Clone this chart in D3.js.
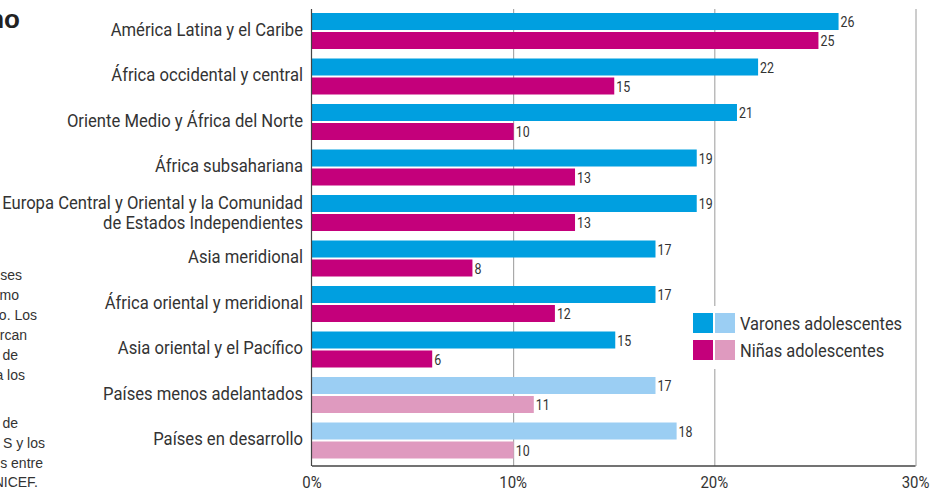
<!DOCTYPE html>
<html>
<head>
<meta charset="utf-8">
<script src="https://cdn.jsdelivr.net/npm/d3@7"></script>
<style>
    html, body { margin: 0; padding: 0; background: #fff; }
    #chart { width: 933px; height: 490px; overflow: hidden; }
    svg { display: block; }
    .cond { font-family: Roboto, "Liberation Sans", sans-serif; }
</style>
</head>
<body>
<div id="chart"></div>
<script>
// Regions (newline = forced break in the label)
var categories = [
    'América Latina y el Caribe',
    'África occidental y central',
    'Oriente Medio y África del Norte',
    'África subsahariana',
    'Europa Central y Oriental y la Comunidad\nde Estados Independientes',
    'Asia meridional',
    'África oriental y meridional',
    'Asia oriental y el Pacífico',
    'Países menos adelantados',
    'Países en desarrollo'
];

// aggregate groups drawn with the pale colours
var aggregates = ['Países menos adelantados', 'Países en desarrollo'];

// % of adolescents (labels are rounded)
var boysValues  = [26.2, 22.2, 21.15, 19.15, 19.15, 17.1, 17.1, 15.1, 17.1, 18.15];
var girlsValues = [25.2, 15.05, 10.05, 13.1, 13.1, 8.0, 12.1, 6.0, 11.05, 10.05];

var xTicks = [0, 10, 20, 30];
var legendLabels = ['Varones adolescentes', 'Niñas adolescentes'];

// clipped text visible at the left edge of the picture
var titleFragment = 'no';
var noteFragments = [
    { text: 'ses', x: 22, y: 280 },
    { text: 'mo', x: 19, y: 300 },
    { text: 'o. Los', x: 37, y: 320 },
    { text: 'rcan', x: 27, y: 340 },
    { text: 'de', x: 18, y: 360 },
    { text: 'a los', x: 25, y: 380 },
    { text: 'de', x: 18, y: 428 },
    { text: 'S y los', x: 45, y: 448 },
    { text: 's entre', x: 43, y: 468 },
    { text: 'NICEF.', x: 38, y: 487 }
];

var COLORS = {
    boys: '#009fe0',
    girls: '#c4007b',
    boysLight: '#9bcef3',
    girlsLight: '#df9abf'
};

// fake a condensed face: horizontal squeeze of Roboto
function condensed(sel, x, y, sx) {
    sel.attr('class', 'cond')
        .attr('transform', 'translate(' + x + ',' + y + ') scale(' + sx + ',1)');
}

function renderChart() {
    var width = 933, height = 490;
    var plotTop = 9, plotBottom = 466;

    var svg = d3.select('#chart').append('svg')
        .attr('width', width)
        .attr('height', height);

    var rows = categories.map(function(c, i) {
        return { name: c, boys: boysValues[i], girls: girlsValues[i],
                 aggregate: aggregates.indexOf(c) >= 0 };
    });

    var xScale = d3.scaleLinear()
        .domain([0, 30])
        .range([311.5, 915]);

    var yScale = d3.scaleBand()
        .domain(categories)
        .range([13, 458.5])
        .paddingInner(0.2088)
        .paddingOuter(0);

    var subScale = d3.scaleBand()
        .domain(['boys', 'girls'])
        .range([0, yScale.bandwidth()])
        .paddingInner(0.105);

    // grid lines
    svg.append('g')
        .attr('class', 'grid')
        .attr('transform', 'translate(0.5,' + plotBottom + ')')
        .call(d3.axisBottom(xScale)
            .tickValues(xTicks.slice(1))
            .tickSize(-(plotBottom - plotTop))
            .tickFormat(''))
        .call(function(g) {
            g.select('.domain').remove();
            g.selectAll('line')
                .attr('stroke', '#9a9a9a')
                .attr('stroke-width', 1);
        });

    // bars
    var groups = svg.selectAll('.row')
        .data(rows)
        .enter()
        .append('g')
        .attr('class', 'row')
        .attr('transform', function(d) { return 'translate(0,' + yScale(d.name) + ')'; });

    ['boys', 'girls'].forEach(function(key) {
        groups.append('rect')
            .attr('x', xScale(0))
            .attr('y', subScale(key))
            .attr('width', function(d) { return xScale(d[key]) - xScale(0); })
            .attr('height', subScale.bandwidth())
            .attr('fill', function(d) {
                return d.aggregate ? COLORS[key + 'Light'] : COLORS[key];
            });

        groups.append('text')
            .each(function(d) {
                condensed(d3.select(this), xScale(d[key]) + 2,
                    subScale(key) + subScale.bandwidth() / 2, 0.8);
            })
            .attr('dy', '0.36em')
            .attr('font-size', '15.5px')
            .attr('fill', '#333')
            .text(function(d) { return d3.format('.0f')(d[key]); });
    });

    // category labels
    groups.each(function(d) {
        var lines = d.name.split('\n');
        var mid = yScale.bandwidth() / 2;
        var txt = d3.select(this).append('text')
            .attr('text-anchor', 'end')
            .attr('font-size', '18.5px')
            .attr('fill', '#333');
        condensed(txt, 303, 0, 0.9);
        lines.forEach(function(line, i) {
            txt.append('tspan')
                .attr('x', 0)
                .attr('y', mid + 5 + (i - (lines.length - 1) / 2) * 20 + (lines.length > 1 ? 1 : 0))
                .text(line);
        });
    });

    // left axis line
    svg.append('line')
        .attr('x1', 311.5).attr('x2', 311.5)
        .attr('y1', plotTop).attr('y2', plotBottom)
        .attr('stroke', '#444')
        .attr('stroke-width', 1.2);

    // bottom axis
    svg.append('g')
        .attr('class', 'x-axis')
        .attr('transform', 'translate(0,' + (plotBottom - 0.5) + ')')
        .call(d3.axisBottom(xScale)
            .tickValues(xTicks)
            .tickSizeInner(0)
            .tickSizeOuter(0)
            .tickPadding(10)
            .tickFormat(function(d) { return d + '%'; }))
        .call(function(g) {
            g.select('.domain').attr('stroke', '#444').attr('stroke-width', 1.4);
            g.selectAll('text')
                .attr('class', 'cond')
                .attr('font-size', '17px')
                .attr('fill', '#333')
                .attr('transform', 'scale(0.88,1)');
        });

    // legend
    var legend = svg.append('g').attr('class', 'legend');
    legend.append('rect')
        .attr('x', 688).attr('y', 306)
        .attr('width', 222).attr('height', 63)
        .attr('fill', '#fff');

    var legendRows = [
        { label: legendLabels[0], dark: COLORS.boys, light: COLORS.boysLight },
        { label: legendLabels[1], dark: COLORS.girls, light: COLORS.girlsLight }
    ];
    legendRows.forEach(function(r, i) {
        var y = 313 + i * 27;
        legend.append('rect').attr('x', 693).attr('y', y).attr('width', 20).attr('height', 20).attr('fill', r.dark);
        legend.append('rect').attr('x', 715).attr('y', y).attr('width', 20).attr('height', 20).attr('fill', r.light);
        var t = legend.append('text')
            .attr('font-size', '18.5px')
            .attr('fill', '#333')
            .text(r.label);
        condensed(t, 740, y + 16.5, 0.89);
    });

    // clipped title and note at the left edge
    svg.append('text')
        .attr('x', 20)
        .attr('y', 28)
        .attr('text-anchor', 'end')
        .attr('font-family', '"Liberation Sans", Arial, sans-serif')
        .attr('font-weight', 'bold')
        .attr('font-size', '26px')
        .attr('fill', '#222')
        .text(titleFragment);

    svg.selectAll('.note')
        .data(noteFragments)
        .enter()
        .append('text')
        .attr('class', 'note')
        .attr('x', function(d) { return d.x; })
        .attr('y', function(d) { return d.y; })
        .attr('text-anchor', 'end')
        .attr('font-family', '"Liberation Sans", Arial, sans-serif')
        .attr('font-size', '14px')
        .attr('fill', '#333')
        .text(function(d) { return d.text; });
}

renderChart();
</script>
</body>
</html>
